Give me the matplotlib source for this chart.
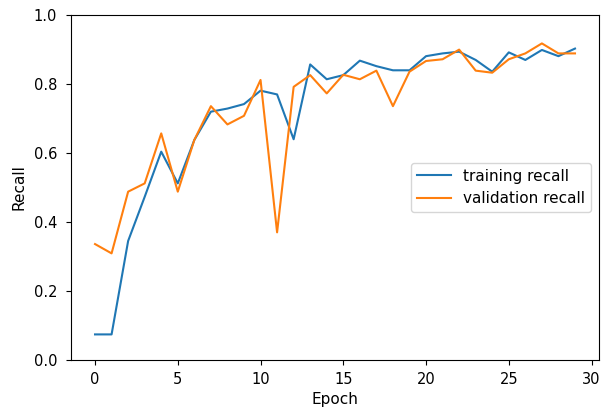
import matplotlib
matplotlib.use('Agg')
import matplotlib.pyplot as plt

epochs = list(range(30))
train_recall = [0.074, 0.074, 0.345, 0.473, 0.604, 0.512, 0.638, 0.720, 0.729, 0.742,
                0.781, 0.770, 0.640, 0.857, 0.814, 0.826, 0.868, 0.852, 0.840, 0.840,
                0.881, 0.889, 0.894, 0.870, 0.836, 0.892, 0.870, 0.899, 0.881, 0.903]
val_recall = [0.336, 0.309, 0.488, 0.512, 0.657, 0.488, 0.638, 0.736, 0.683, 0.708,
              0.812, 0.370, 0.792, 0.826, 0.773, 0.827, 0.814, 0.839, 0.736, 0.836,
              0.867, 0.872, 0.900, 0.839, 0.833, 0.872, 0.889, 0.918, 0.889, 0.889]

fig = plt.figure(figsize=(6.02, 4.09), dpi=100)
ax = fig.add_axes([0.118, 0.12, 0.877, 0.843])
ax.plot(epochs, train_recall, label='training recall')
ax.plot(epochs, val_recall, label='validation recall')
ax.set_ylim(0, 1.0)
ax.set_xlim(-1.45, 30.45)
ax.tick_params(axis='y', pad=6.5, labelsize=10.5)
ax.tick_params(axis='x', pad=5.5, labelsize=10.5)
ax.set_xlabel('Epoch', fontsize=11, labelpad=3)
ax.set_ylabel('Recall', fontsize=11, labelpad=5)
ax.legend(loc='center right', fontsize=11, handlelength=2.2)
fig.savefig('out.png', dpi=100)
